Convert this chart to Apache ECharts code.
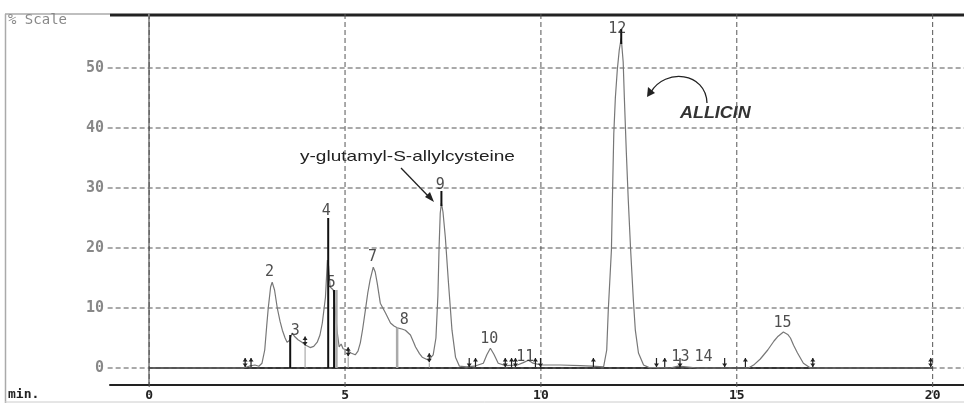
<!DOCTYPE html>
<html>
<head>
<meta charset="utf-8">
<script src="https://cdn.jsdelivr.net/npm/echarts@6/dist/echarts.min.js"></script>
<style>html,body{margin:0;padding:0;background:#fff;}#c{width:964px;height:403px;}</style>
</head>
<body>
<div id="c"></div>
<script>
// ---- data ----
const xTicks = [0, 5, 10, 15, 20];
const yTicks = [0, 10, 20, 30, 40, 50];

const traceTime = [0, 2.4, 2.55, 2.7, 2.8, 2.88, 2.95, 3.0, 3.04, 3.1, 3.14, 3.2, 3.27, 3.34, 3.4, 3.47, 3.52, 3.58, 3.65, 3.72, 3.8, 3.9, 4.0, 4.11, 4.2, 4.29, 4.36, 4.42, 4.5, 4.55, 4.58, 4.62, 4.7, 4.75, 4.8, 4.85, 4.9, 4.95, 5.05, 5.15, 5.26, 5.33, 5.39, 5.45, 5.52, 5.58, 5.64, 5.72, 5.77, 5.82, 5.9, 6.03, 6.16, 6.25, 6.33, 6.45, 6.54, 6.67, 6.75, 6.8, 6.9, 6.97, 7.13, 7.25, 7.32, 7.37, 7.4, 7.43, 7.46, 7.5, 7.56, 7.64, 7.73, 7.82, 7.92, 8.1, 8.3, 8.53, 8.62, 8.71, 8.8, 8.91, 9.1, 9.4, 9.55, 9.68, 9.8, 10.0, 10.5, 11.0, 11.3, 11.6, 11.68, 11.72, 11.8, 11.83, 11.86, 11.9, 11.95, 12.0, 12.05, 12.1, 12.13, 12.18, 12.23, 12.29, 12.36, 12.41, 12.49, 12.62, 12.75, 13.3, 13.5, 13.7, 14.0, 15.3, 15.45, 15.6, 15.79, 15.95, 16.04, 16.19, 16.3, 16.37, 16.45, 16.55, 16.7, 16.88, 20];
const traceSignal = [0, 0, 0.3, 0.5, 0.3, 0.8, 3, 7, 10, 13.5, 14.3, 13, 10, 7.8, 6.3, 5, 4.3, 4.6, 5.8, 5.2, 4.7, 4.3, 3.8, 3.4, 3.6, 4.3, 5.5, 7.5, 11.8, 18, 17, 13.5, 13, 9.7, 6, 3.5, 4, 3.2, 3, 2.5, 2.2, 2.8, 4.2, 6.5, 9.7, 12.5, 14.7, 16.8, 16, 14.2, 10.8, 9.2, 7.5, 7, 6.7, 6.5, 6.3, 5.5, 4.3, 3.5, 2.4, 1.8, 1.3, 2.2, 5, 12, 20, 25.8, 27.5, 26, 21.8, 14.2, 6.3, 1.8, 0.3, 0.2, 0.3, 0.8, 2.2, 3.3, 2.3, 0.8, 0.4, 0.5, 0.9, 1.3, 0.8, 0.5, 0.5, 0.4, 0.3, 0.2, 3, 9.7, 19.7, 29.7, 39, 45, 49.7, 53, 55, 51, 45, 36, 28, 19.7, 11.3, 6.3, 2.5, 0.5, 0.1, 0, 0.3, 0.2, 0, 0, 0.6, 1.5, 3, 4.5, 5.2, 6, 5.6, 5, 3.8, 2.5, 0.8, 0, 0];

// integration spikes (dark) and (grey)
const darkSpikeTime = [3.6, 4.57, 4.72, 7.46, 12.05];
const darkSpikeLow  = [0, 0, 0, 27, 54];
const darkSpikeHigh = [5.5, 25, 13, 29.5, 56.5];
const greySpikeTime = [4.78, 6.33];
const greySpikeLow  = [0, 0];
const greySpikeHigh = [13, 6.7];

// event markers on the baseline: kind u = up arrow, d = down arrow, b = both
const eventTime = [2.45, 2.6, 3.98, 5.08, 7.15, 8.17, 8.33, 9.09, 9.25, 9.35, 9.86, 9.99, 11.34, 12.95, 13.16, 13.55, 14.69, 15.22, 16.94, 19.95];
const eventBase = [0, 0, 3.6, 1.8, 0.8, 0, 0, 0, 0, 0, 0, 0, 0, 0, 0, 0, 0, 0, 0, 0];
const eventKind = ['b', 'u', 'b', 'b', 'b', 'd', 'u', 'b', 'u', 'b', 'u', 'd', 'u', 'd', 'u', 'd', 'd', 'u', 'b', 'b'];

// peak numbers
const peakName = ['2', '3', '4', '5', '7', '8', '9', '10', '11', '12', '13', '14', '15'];
const peakLabelTime = [3.07, 3.73, 4.52, 4.65, 5.70, 6.51, 7.43, 8.68, 9.6, 11.95, 13.56, 14.15, 16.17];
const peakLabelHeight = [16, 6.2, 26.2, 14.2, 18.5, 8, 30.5, 4.8, 1.8, 56.5, 1.8, 1.8, 7.5];

// ---- chart ----
const X_MIN = -1, X_MAX = 20.8, Y_MIN = -2.8333, Y_MAX = 59;
const mono = 'DejaVu Sans Mono';

const chart = echarts.init(document.getElementById('c'), null, {renderer: 'canvas'});

function lineEl(p1, p2, stroke, w, dash) {
  return {type: 'line', shape: {x1: p1[0], y1: p1[1], x2: p2[0], y2: p2[1]},
    style: {stroke: stroke, lineWidth: w, lineDash: dash || null}, silent: true};
}

const option = {
  animation: false,
  grid: {left: 110, right: 0, top: 14, bottom: 18, containLabel: false},
  xAxis: {
    type: 'value', min: X_MIN, max: X_MAX,
    axisLine: {show: true, onZero: false, lineStyle: {color: '#222', width: 2}},
    axisTick: {show: false},
    splitLine: {show: false},
    axisLabel: {customValues: xTicks, margin: 4, color: '#222', fontFamily: mono, fontWeight: 'bold', fontSize: 13,
      formatter: v => String(v)}
  },
  yAxis: {
    type: 'value', min: Y_MIN, max: Y_MAX,
    axisLine: {show: true, lineStyle: {color: '#999', width: 2}},
    axisTick: {show: false},
    splitLine: {show: false},
    axisLabel: {customValues: yTicks, margin: 6, color: '#888', fontFamily: mono, fontWeight: 'bold', fontSize: 15,
      formatter: v => String(v)}
  },
  series: [
    { // horizontal dashed grid
      type: 'custom', z: 1, clip: false, silent: true,
      data: yTicks.map(v => [v]),
      renderItem: (params, api) => {
        const v = api.value(0);
        return lineEl(api.coord([X_MIN - 0.06, v]), api.coord([X_MAX, v]), '#555', 1, [5, 3]);
      }
    },
    { // vertical dashed grid
      type: 'custom', z: 1, clip: false, silent: true,
      data: xTicks.map(v => [v]),
      renderItem: (params, api) => {
        const v = api.value(0);
        return lineEl(api.coord([v, Y_MAX]), api.coord([v, Y_MIN - 1.3]), '#555', 1, [5, 3]);
      }
    },
    { // baseline
      type: 'custom', z: 2, clip: false, silent: true,
      data: [[xTicks[0], xTicks[xTicks.length - 1]]],
      renderItem: (params, api) => lineEl(api.coord([api.value(0), 0]), api.coord([api.value(1), 0]), '#111', 1.5)
    },
    { // chromatogram trace
      type: 'line', z: 3, silent: true, symbol: 'none', smooth: false,
      lineStyle: {color: '#777', width: 1.2},
      data: traceTime.map((t, i) => [t, traceSignal[i]])
    },
    { // dark spikes
      type: 'custom', z: 4, silent: true,
      data: darkSpikeTime.map((t, i) => [t, darkSpikeLow[i], darkSpikeHigh[i]]),
      renderItem: (params, api) => lineEl(api.coord([api.value(0), api.value(1)]), api.coord([api.value(0), api.value(2)]), '#111', 2)
    },
    { // grey spikes
      type: 'custom', z: 4, silent: true,
      data: greySpikeTime.map((t, i) => [t, greySpikeLow[i], greySpikeHigh[i]]),
      renderItem: (params, api) => lineEl(api.coord([api.value(0), api.value(1)]), api.coord([api.value(0), api.value(2)]), '#aaa', 2.5)
    },
    { // event arrows
      type: 'custom', z: 5, silent: true, clip: false,
      data: eventTime.map((t, i) => [t, eventBase[i], i]),
      renderItem: (params, api) => {
        const p = api.coord([api.value(0), api.value(1)]);
        const p0 = api.coord([api.value(0), 0]);
        const kind = eventKind[api.value(2)];
        const x = p[0], yb = p[1] - 1, yt = p[1] - 10;
        const ch = [];
        if (p0[1] - p[1] > 2) ch.push(lineEl([x, p0[1]], [x, p[1]], '#999', 1));
        ch.push(lineEl([x, yb], [x, yt], '#222', 1.2));
        if (kind === 'u' || kind === 'b') ch.push({type: 'polygon', shape: {points: [[x - 2.5, yt + 3.5], [x, yt], [x + 2.5, yt + 3.5]]}, style: {fill: '#222'}});
        if (kind === 'd' || kind === 'b') ch.push({type: 'polygon', shape: {points: [[x - 2.5, yb - 3.5], [x, yb], [x + 2.5, yb - 3.5]]}, style: {fill: '#222'}});
        return {type: 'group', children: ch};
      }
    },
    { // peak numbers
      type: 'scatter', z: 6, silent: true, symbolSize: 0,
      data: peakLabelTime.map((t, i) => ({value: [t, peakLabelHeight[i]], name: peakName[i]})),
      label: {show: true, position: 'inside', formatter: p => p.name, color: '#222', fontFamily: mono, fontSize: 15}
    }
  ],
  graphic: [
    // outer frame
    {type: 'line', shape: {x1: 5, y1: 14, x2: 110, y2: 14}, style: {stroke: '#aaa', lineWidth: 1.5}, silent: true},
    {type: 'line', shape: {x1: 5.5, y1: 14, x2: 5.5, y2: 403}, style: {stroke: '#aaa', lineWidth: 1.5}, silent: true},
    {type: 'line', shape: {x1: 5, y1: 402, x2: 964, y2: 402}, style: {stroke: '#ccc', lineWidth: 1}, silent: true},
    {type: 'line', shape: {x1: 110, y1: 15, x2: 964, y2: 15}, style: {stroke: '#222', lineWidth: 3}, silent: true},
    {type: 'text', left: 8, top: 13, style: {text: '% Scale', fill: '#888', font: '14px "DejaVu Sans Mono"'}},
    {type: 'text', left: 8, top: 388, style: {text: 'min.', fill: '#222', font: 'bold 13px "DejaVu Sans Mono"'}},
    // annotations
    {type: 'text', x: 300, y: 149, scaleX: 1.27, style: {text: 'y-glutamyl-S-allylcysteine', fill: '#222', font: '15px "Liberation Sans"'}},
    {type: 'line', shape: {x1: 401, y1: 168, x2: 431, y2: 199}, style: {stroke: '#222', lineWidth: 1.3}, silent: true},
    {type: 'polygon', shape: {points: [[434, 202], [425, 197], [430, 192]]}, style: {fill: '#222'}, silent: true},
    {type: 'text', x: 680, y: 106, scaleX: 1.12, style: {text: 'ALLICIN', fill: '#333', font: 'italic bold 16px "Liberation Sans"'}},
    {type: 'bezierCurve', shape: {x1: 707, y1: 103, cpx1: 706, cpy1: 72, cpx2: 665, cpy2: 68, x2: 651, y2: 92}, style: {stroke: '#222', lineWidth: 1.3, fill: null}, silent: true},
    {type: 'polygon', shape: {points: [[647, 97], [648, 87], [655, 93]]}, style: {fill: '#222'}, silent: true}
  ]
};
chart.setOption(option);
</script>
</body>
</html>
